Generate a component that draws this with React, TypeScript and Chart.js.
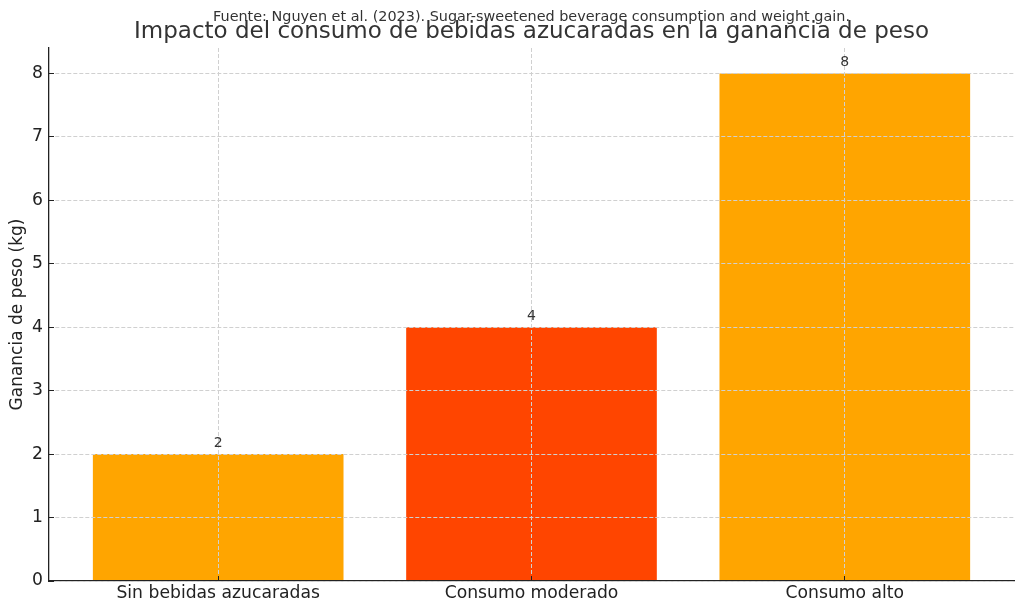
import React, { useRef, useEffect } from 'react';
import { Chart, registerables } from 'chart.js';

Chart.register(...registerables);

const TITLE = 'Impacto del consumo de bebidas azucaradas en la ganancia de peso';
const SUBTITLE = 'Fuente: Nguyen et al. (2023). Sugar-sweetened beverage consumption and weight gain.';
const Y_LABEL = 'Ganancia de peso (kg)';

const CATEGORIES = ['Sin bebidas azucaradas', 'Consumo moderado', 'Consumo alto'];
const WEIGHT_GAIN = [2, 4, 8];
const BAR_COLORS = ['#FFA500', '#FF4500', '#FFA500'];
const Y_TICKS = [0, 1, 2, 3, 4, 5, 6, 7, 8];

const FONT = "'DejaVu Sans', sans-serif";

const textPlugin = {
    id: 'textPlugin',
    afterDraw(chart: Chart) {
        const { ctx, chartArea } = chart;
        const cx = (chartArea.left + chartArea.right) / 2;
        ctx.save();
        ctx.textAlign = 'center';
        ctx.textBaseline = 'middle';

        // value labels above bars
        const meta = chart.getDatasetMeta(0);
        ctx.fillStyle = '#333333';
        ctx.font = `14px ${FONT}`;
        meta.data.forEach((bar: any, i) => {
            ctx.fillText(String(WEIGHT_GAIN[i]), bar.x, bar.y - 11);
        });

        // title + source line
        ctx.font = `23px ${FONT}`;
        ctx.fillText(TITLE, cx, 32);
        ctx.font = `14.4px ${FONT}`;
        ctx.fillText(SUBTITLE, cx, 17);

        // y axis label
        ctx.font = `17px ${FONT}`;
        ctx.fillStyle = '#222222';
        ctx.translate(18, (chartArea.top + chartArea.bottom) / 2);
        ctx.rotate(-Math.PI / 2);
        ctx.fillText(Y_LABEL, 0, 0);
        ctx.restore();
    },
};

const App: React.FC = () => {
    const chartRef = useRef<HTMLCanvasElement>(null);

    useEffect(() => {
        if (!chartRef.current) return;
        const chart = new Chart(chartRef.current, {
            type: 'bar',
            data: {
                datasets: [{
                    data: WEIGHT_GAIN.map((v, i) => ({ x: i, y: v })),
                    backgroundColor: BAR_COLORS,
                    borderWidth: 0,
                    barPercentage: 1,
                    categoryPercentage: 0.8,
                }],
            },
            options: {
                responsive: false,
                animation: false,
                devicePixelRatio: 1,
                layout: { padding: { top: 48, right: 10, left: 0, bottom: 0 } },
                plugins: {
                    legend: { display: false },
                    tooltip: { enabled: false },
                },
                scales: {
                    x: {
                        type: 'linear',
                        offset: false,
                        min: -0.54,
                        max: 2.54,
                        afterBuildTicks: (scale: any) => {
                            scale.ticks = CATEGORIES.map((_, i) => ({ value: i }));
                        },
                        afterFit: (scale: any) => { scale.height = 32; },
                        ticks: {
                            callback: (v: any) => CATEGORIES[v] ?? '',
                            color: '#222222',
                            font: { family: FONT, size: 17.2 },
                            padding: 7,
                            maxRotation: 0,
                            autoSkip: false,
                        },
                        grid: {
                            offset: false,
                            color: '#d0d0d0',
                            z: 1,
                            tickLength: -5,
                            tickColor: '#222222',
                            tickBorderDash: [10, 0],
                        },
                        border: { display: true, color: '#222222', width: 1.3, dash: [4, 2], z: 1 },
                    },
                    y: {
                        min: 0,
                        max: 8.4,
                        afterBuildTicks: (scale: any) => {
                            scale.ticks = Y_TICKS.map((v) => ({ value: v }));
                        },
                        afterFit: (scale: any) => { scale.width = 49; },
                        ticks: {
                            color: '#222222',
                            font: { family: FONT, size: 17.2 },
                            padding: 11,
                        },
                        grid: {
                            color: '#d0d0d0',
                            z: 1,
                            tickLength: -5,
                            tickColor: '#222222',
                            tickBorderDash: [10, 0],
                        },
                        border: { display: true, color: '#222222', width: 1.3, dash: [4, 2], z: 1 },
                    },
                },
            },
            plugins: [textPlugin],
        } as any);
        return () => { chart.destroy(); };
    }, []);

    return (
        <div style={{ position: 'absolute', left: 0, top: 0, width: 1024, height: 613, background: '#ffffff' }}>
            <canvas ref={chartRef} width={1024} height={613} />
        </div>
    );
};

export default App;
